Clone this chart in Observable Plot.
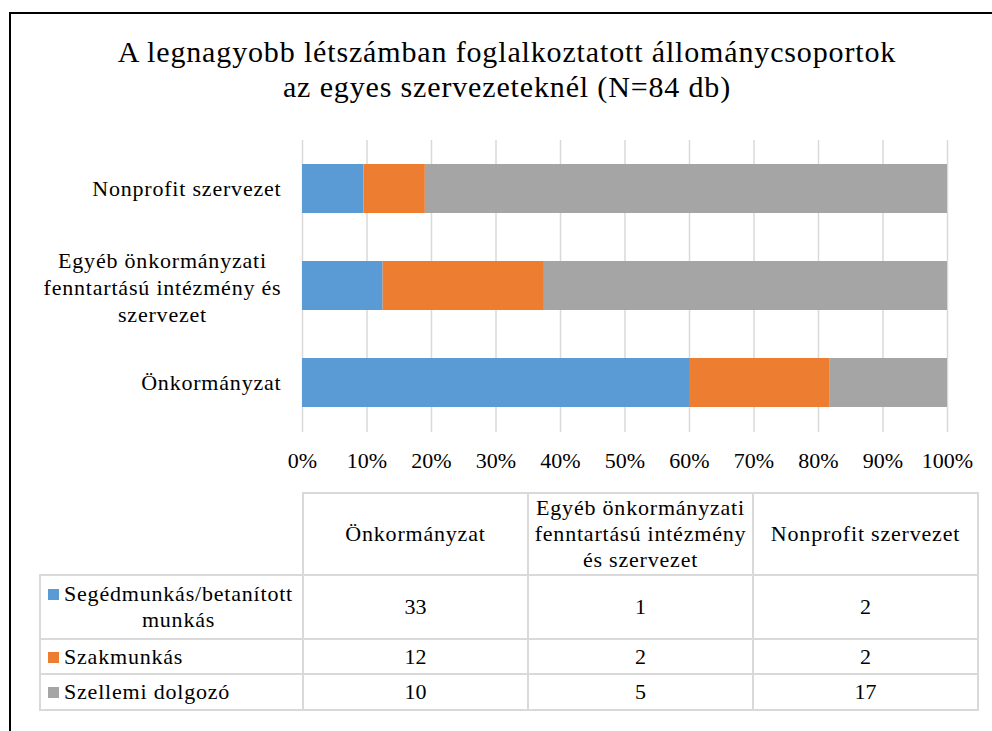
<!DOCTYPE html>
<html>
<head>
<meta charset="utf-8">
<script src="https://cdn.jsdelivr.net/npm/d3@7"></script>
<script src="https://cdn.jsdelivr.net/npm/@observablehq/plot@0.6"></script>
<style>
  html, body { margin: 0; padding: 0; background: #fff; }
  #wrap { position: relative; width: 992px; height: 731px; overflow: hidden; color: #000; font-family: 'Liberation Serif', 'Times New Roman', serif; }
  #frame { position: absolute; left: 9px; top: 12px; width: 990px; height: 730px; border-left: 2px solid #000; border-top: 2px solid #000; box-sizing: border-box; }
  #title { position: absolute; left: 0; width: 1014px; top: 34px; text-align: center; font-size: 30px; line-height: 35px; letter-spacing: 0.85px; }
  #chart { position: absolute; left: 0; top: 120px; }
  #chart g[aria-label="text"] text { letter-spacing: 0.8px; }
  #tbl { position: absolute; left: 39px; top: 492px; border-collapse: collapse; table-layout: fixed; font-size: 22px; font-family: inherit; }
  #tbl td { border: 2px solid #d9d9d9; padding: 0; text-align: center; vertical-align: middle; line-height: 26px; white-space: pre-line; }
  #tbl td.word { letter-spacing: 0.8px; }
  #tbl td.blank { border: none; border-bottom: 2px solid #d9d9d9; }
  #tbl td.lab { text-align: left; padding-left: 7px; letter-spacing: 0.8px; }
  .lg { display: flex; align-items: flex-start; }
  .key { width: 11px; height: 11px; margin-top: 8px; margin-right: 5px; flex: none; }
  .lt { display: inline-block; text-align: center; }
</style>
</head>
<body>
<div id="wrap">
  <div id="frame"></div>
  <div id="title">A legnagyobb létszámban foglalkoztatott állománycsoportok<br>az egyes szervezeteknél (N=84 db)</div>
  <div id="chart"></div>
  <table id="tbl"></table>
</div>
<script>
// ---- data ----
const categories = ["Önkormányzat", "Egyéb önkormányzati fenntartású intézmény és szervezet", "Nonprofit szervezet"];
const axisLabels = ["Önkormányzat", "Egyéb önkormányzati\nfenntartású intézmény és\nszervezet", "Nonprofit szervezet"];
const headerLabels = ["Önkormányzat", "Egyéb önkormányzati\nfenntartású intézmény\nés szervezet", "Nonprofit szervezet"];
const seriesNames = ["Segédmunkás/betanított munkás", "Szakmunkás", "Szellemi dolgozó"];
const seriesLabels = ["Segédmunkás/betanított\nmunkás", "Szakmunkás", "Szellemi dolgozó"];
const segedmunkas = [33, 1, 2];
const szakmunkas = [12, 2, 2];
const szellemi = [10, 5, 17];
const seriesColors = ["#5B9BD5", "#ED7D31", "#A5A5A5"];
const xTicks = [0, 0.1, 0.2, 0.3, 0.4, 0.5, 0.6, 0.7, 0.8, 0.9, 1];

const FONT = "'Liberation Serif', 'Times New Roman', serif";

// ---- build tidy table ----
const seriesValues = [segedmunkas, szakmunkas, szellemi];
const rows = [];
seriesNames.forEach((s, si) => {
  categories.forEach((c, ci) => rows.push({series: s, category: c, value: seriesValues[si][ci]}));
});
const labelOf = new Map(categories.map((c, i) => [c, axisLabels[i]]));
const yDomain = categories.slice().reverse();
const multi = categories.filter((c, i) => axisLabels[i].includes("\n"));
const single = categories.filter((c, i) => !axisLabels[i].includes("\n"));

const chart = Plot.plot({
  width: 992,
  height: 370,
  marginLeft: 302,
  marginRight: 45,
  marginTop: 20,
  marginBottom: 58,
  style: {fontFamily: FONT, fontSize: "22px", color: "#000", background: "transparent"},
  x: {domain: [0, 1], axis: null},
  y: {domain: yDomain, paddingInner: 0.49, paddingOuter: 0.245, axis: null},
  color: {domain: seriesNames, range: seriesColors},
  marks: [
    Plot.gridX(xTicks, {stroke: "#d9d9d9", strokeOpacity: 1, strokeWidth: 1.5}),
    Plot.barX(rows, Plot.stackX({x: "value", y: "category", fill: "series", offset: "normalize", order: seriesNames})),
    Plot.axisX(xTicks, {tickSize: 0, tickPadding: 20, tickFormat: d3.format(".0%"), fontSize: 22, fill: "#000", label: null}),
    Plot.text(single, {y: d => d, text: d => labelOf.get(d), frameAnchor: "left", textAnchor: "end", dx: -21, fontSize: 22, fill: "#000"}),
    Plot.text(multi, {y: d => d, text: d => labelOf.get(d), frameAnchor: "left", textAnchor: "middle", dx: -140, fontSize: 22, lineHeight: 1.23, fill: "#000"})
  ]
});
document.getElementById("chart").appendChild(chart);

// ---- data table ----
const tbl = document.getElementById("tbl");
const colW = [263, 225, 225, 225];
const rowH = [82, 64, 35, 36];
const cg = document.createElement("colgroup");
colW.forEach(w => { const c = document.createElement("col"); c.style.width = w + "px"; cg.appendChild(c); });
tbl.appendChild(cg);
const hr = document.createElement("tr");
hr.style.height = rowH[0] + "px";
const blank = document.createElement("td"); blank.className = "blank"; hr.appendChild(blank);
headerLabels.forEach(h => { const td = document.createElement("td"); td.className = "word"; td.textContent = h; hr.appendChild(td); });
tbl.appendChild(hr);
seriesNames.forEach((s, si) => {
  const tr = document.createElement("tr");
  tr.style.height = rowH[si + 1] + "px";
  const lab = document.createElement("td"); lab.className = "lab";
  const lg = document.createElement("div"); lg.className = "lg";
  const key = document.createElement("span"); key.className = "key"; key.style.background = seriesColors[si];
  const lt = document.createElement("span"); lt.className = "lt"; lt.textContent = seriesLabels[si];
  lg.appendChild(key); lg.appendChild(lt); lab.appendChild(lg); tr.appendChild(lab);
  seriesValues[si].forEach(v => { const td = document.createElement("td"); td.textContent = v; tr.appendChild(td); });
  tbl.appendChild(tr);
});
</script>
</body>
</html>
